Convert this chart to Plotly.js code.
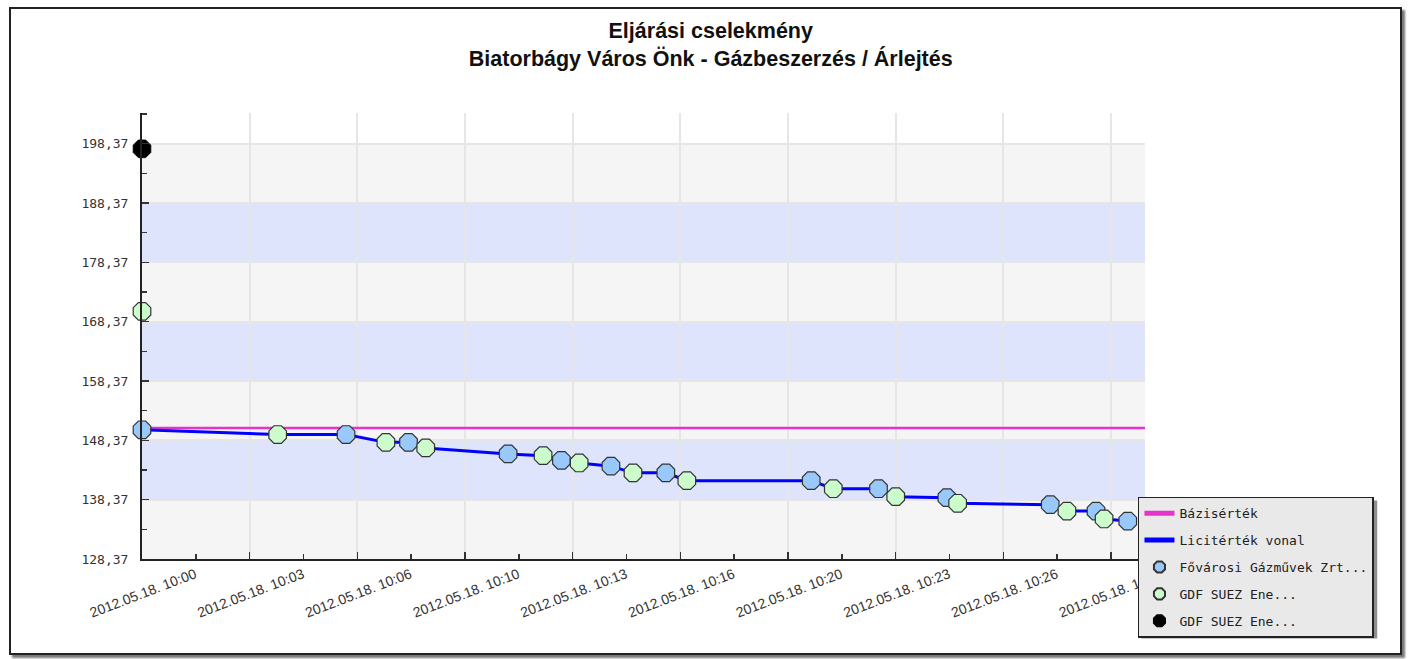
<!DOCTYPE html>
<html>
<head>
<meta charset="utf-8">
<script src="https://cdn.plot.ly/plotly-3.0.1.min.js"></script>
<style>
  html, body { margin: 0; padding: 0; background: #ffffff; }
  #frame { position: absolute; left: 9px; top: 7px; width: 1393px; height: 648px;
           box-sizing: border-box; border: 2px solid #222; box-shadow: 3px 3px 2px #777; background: #fff; }
  #chart { position: absolute; left: 0; top: 0; width: 1413px; height: 659px; }
</style>
</head>
<body>
<div id="frame"></div>
<div id="chart"></div>
<script>
// ---- data ----
const DAY = '2012-05-18 ';
const blueName = 'Fővárosi Gázművek Zrt...';
const blueTimes = ['10:00:00','10:06:19','10:08:15','10:11:20','10:12:59','10:14:31','10:16:13','10:20:43','10:22:48','10:24:55','10:28:07','10:29:32','10:30:31'];
const blueValues = [150.15,149.35,148.03,146.08,145.00,144.02,142.89,141.57,140.22,138.71,137.53,136.45,134.76];

const greenName = 'GDF SUEZ Ene...';
const greenTimes = ['10:00:00','10:04:12','10:07:33','10:08:47','10:12:25','10:13:32','10:15:12','10:16:52','10:21:24','10:23:20','10:25:15','10:28:38','10:29:47'];
const greenValues = [170.12,149.35,148.03,147.09,145.79,144.56,142.89,141.57,140.22,138.88,137.76,136.45,135.12];

const blackName = 'GDF SUEZ Ene...';
const blackTimes = ['10:00:00'];
const blackValues = [197.51];

const baseName = 'Bázisérték';
const baseValue = 150.45;

const lineName = 'Licitérték vonal';

const yTickVals = [128.37,138.37,148.37,158.37,168.37,178.37,188.37,198.37];
const yTickText = ['128,37','138,37','148,37','158,37','168,37','178,37','188,37','198,37'];

const xTickTimes = ['10:00:00','10:03:20','10:06:40','10:10:00','10:13:20','10:16:40','10:20:00','10:23:20','10:26:40','10:30:00'];
const xTickText = ['2012.05.18. 10:00','2012.05.18. 10:03','2012.05.18. 10:06','2012.05.18. 10:10','2012.05.18. 10:13','2012.05.18. 10:16','2012.05.18. 10:20','2012.05.18. 10:23','2012.05.18. 10:26','2012.05.18. 10:30'];

const xStart = '10:00:00';
const xEnd = '10:31:03';
const yBottom = 128.37, yTop = 203.55;

// ---- build ----
const full = a => a.map(t => DAY + t);

// bid line: all bids of the two bidders after the opening offers, in time order
const bids = [];
blueTimes.forEach((t, i) => bids.push([t, blueValues[i]]));
greenTimes.forEach((t, i) => { if (i > 0) bids.push([t, greenValues[i]]); });
bids.sort((a, b) => a[0] < b[0] ? -1 : a[0] > b[0] ? 1 : 0);

const markerLine = {color: '#333', width: 1.2};
const traces = [
  {name: baseName, x: full([xStart, xEnd]), y: [baseValue, baseValue], mode: 'lines',
   line: {color: '#e832cc', width: 2.5}, legendgroup: 'a'},
  {name: lineName, x: full(bids.map(b => b[0])), y: bids.map(b => b[1]), mode: 'lines',
   line: {color: '#0000ff', width: 3}, legendgroup: 'b'},
  {name: blueName, x: full(blueTimes), y: blueValues, mode: 'markers', cliponaxis: false,
   marker: {symbol: 'octagon', size: 19, color: '#99c9fb', line: markerLine}, legendgroup: 'c'},
  {name: greenName, x: full(greenTimes), y: greenValues, mode: 'markers', cliponaxis: false,
   marker: {symbol: 'octagon', size: 19, color: '#ccfccc', line: markerLine}, legendgroup: 'd'},
  {name: blackName, x: full(blackTimes), y: blackValues, mode: 'markers', cliponaxis: false,
   marker: {symbol: 'octagon', size: 19, color: '#000000', line: {color: '#000', width: 1}}, legendgroup: 'e'}
];

const shapes = [];
for (let k = 0; k < yTickVals.length - 1; k++) {
  shapes.push({type: 'rect', xref: 'paper', yref: 'y', x0: 0, x1: 1, y0: yTickVals[k], y1: yTickVals[k + 1],
    fillcolor: k % 2 === 0 ? '#f5f5f5' : '#dde4fb', line: {width: 0}, layer: 'below'});
}
// legend shadow
shapes.push({type: 'rect', xref: 'paper', yref: 'paper', x0: 0.9965, x1: 1.2315, y0: -0.178, y1: 0.131,
  fillcolor: '#8f8f8f', line: {width: 0}, layer: 'above'});

const layout = {
  width: 1413, height: 659,
  margin: {l: 142, r: 268, t: 113, b: 100},
  paper_bgcolor: 'rgba(0,0,0,0)', plot_bgcolor: '#ffffff',
  title: {text: 'Eljárási cselekmény<br>Biatorbágy Város Önk - Gázbeszerzés / Árlejtés',
    font: {family: 'Liberation Sans, Arial, sans-serif', size: 21.5, color: '#111', weight: 700},
    xref: 'container', x: 0.503, xanchor: 'center', yref: 'container', y: 0.943, yanchor: 'top'},
  xaxis: {type: 'date', range: full([xStart, xEnd]), tickmode: 'array', tickvals: full(xTickTimes), ticktext: xTickText,
    tickangle: -21, ticklabelshift: 53, ticks: 'inside', ticklen: 7, tickcolor: '#333', tickwidth: 1.5,
    tickfont: {family: 'Liberation Sans Narrow, Liberation Sans, Arial, sans-serif', size: 14, color: '#333'},
    showgrid: true, gridcolor: '#e6e6e6', gridwidth: 2, zeroline: false,
    showline: true, linecolor: '#222', linewidth: 2,
    minor: {tickmode: 'linear', tick0: DAY + '10:00:00', dtick: 100000, ticks: 'inside', ticklen: 5, tickcolor: '#333', showgrid: false}},
  yaxis: {range: [yBottom, yTop], tickmode: 'array', tickvals: yTickVals, ticktext: yTickText,
    ticks: 'inside', ticklen: 7, tickcolor: '#333', tickwidth: 1.5, ticklabelstandoff: 9,
    tickfont: {family: 'DejaVu Sans Mono, monospace', size: 13, color: '#333'},
    showgrid: true, gridcolor: '#e6e6e6', gridwidth: 2, zeroline: false,
    showline: true, linecolor: '#222', linewidth: 2,
    minor: {tickmode: 'linear', tick0: 133.37, dtick: 10, ticks: 'inside', ticklen: 5, tickcolor: '#333', showgrid: false}},
  showlegend: true,
  legend: {x: 0.993, xanchor: 'left', y: 0.1397, yanchor: 'top', bgcolor: '#e9e9e9', bordercolor: '#222', borderwidth: 1.5,
    font: {family: 'DejaVu Sans Mono, monospace', size: 13, color: '#222'},
    traceorder: 'grouped', tracegroupgap: 7, itemsizing: 'constant'},
  shapes: shapes
};

Plotly.newPlot('chart', traces, layout, {displayModeBar: false, staticPlot: true});
</script>
</body>
</html>
